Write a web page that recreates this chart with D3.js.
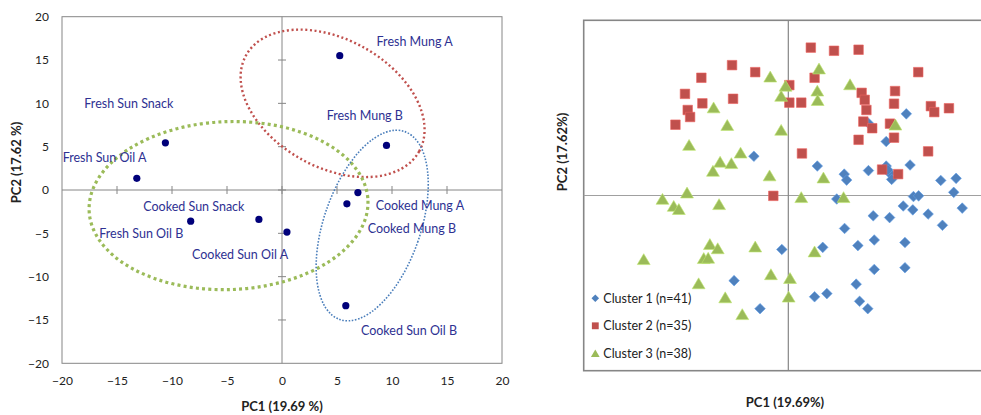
<!DOCTYPE html>
<html>
<head>
<meta charset="utf-8">
<script src="https://cdn.jsdelivr.net/npm/d3@7"></script>
<style>
  body { margin: 0; background: #fff; }
  svg { display: block; font-family: Lato, "Open Sans", sans-serif; }
</style>
</head>
<body>
<svg id="chart" width="981" height="415"></svg>
<script>
// ---------------- data: left panel (PCA scores) ----------------
const samples = ["Fresh Mung A", "Fresh Sun Snack", "Fresh Sun Oil A", "Fresh Mung B", "Cooked Mung A",
                 "Cooked Mung B", "Fresh Sun Oil B", "Cooked Sun Snack", "Cooked Sun Oil A", "Cooked Sun Oil B"];
const pc1 = [5.25, -10.6, -13.2, 9.5, 6.9, 5.9, -8.3, -2.1, 0.45, 5.8];
const pc2 = [15.5, 5.45, 1.35, 5.15, -0.3, -1.6, -3.6, -3.4, -4.85, -13.35];
// where each data label sits (data units, text start / middle)
const labelX = [8.6, -17.97, -19.94, 4.06, 8.52, 7.79, -16.61, -12.61, -8.18, 7.18];
const labelY = [17.07, 9.92, 3.76, 8.54, -1.81, -4.43, -5.07, -1.89, -7.46, -16.23];
const ticksL = [-20, -15, -10, -5, 0, 5, 10, 15, 20];

// grouping ellipses (centre in data units)
const groupCx = [4.6, -4.86, 8.2];
const groupCy = [10, -1.8, -4.1];

// ---------------- data: right panel (clusters) ----------------
const cluster1 = [
  [-1.01, 1.12], [3.46, 2.33], [2.35, 2.06], [2.87, 1.54], [0.85, 0.84], [1.64, 0.61], [1.71, 0.44],
  [2.35, 0.71], [2.87, 0.84], [2.98, 0.63], [3.03, 0.46], [3.57, 0.87], [4.47, 0.43], [4.92, 0.49],
  [4.85, 0.09], [1.42, -0.10], [3.67, -0.03], [3.82, -0.01], [5.10, -0.36], [3.37, -0.30], [3.65, -0.41],
  [4.10, -0.53], [2.49, -0.58], [2.97, -0.63], [4.52, -0.85], [1.65, -0.94], [2.52, -1.27], [3.42, -1.34],
  [1.01, -1.48], [2.04, -1.43], [2.52, -2.11], [3.42, -2.06], [1.99, -2.53], [1.13, -2.80], [0.77, -2.89],
  [2.09, -3.02], [2.33, -3.23], [-0.19, -1.54], [-1.59, -2.43], [-0.83, -3.23], [2.92, 0.73]
];
const cluster2 = [
  [-1.65, 3.72], [-0.97, 3.52], [-2.55, 3.36], [-3.03, 2.90], [-1.62, 2.76], [-2.52, 2.63], [-2.95, 2.44],
  [-2.88, 2.24], [-3.31, 2.02], [-0.44, -0.01], [0.03, 3.15], [0.03, 2.65], [0.66, 4.22], [1.34, 4.13],
  [2.06, 4.16], [3.81, 3.52], [0.77, 3.36], [2.15, 2.93], [3.13, 2.98], [2.24, 2.73], [0.38, 2.65],
  [3.10, 2.62], [2.29, 2.44], [4.18, 2.55], [4.28, 2.38], [4.71, 2.49], [2.20, 2.11], [2.46, 1.92],
  [2.98, 2.05], [3.10, 1.65], [2.06, 1.59], [0.40, 1.20], [4.10, 1.26], [2.75, 0.74], [3.22, 0.61]
];
const cluster3 = [
  [-0.53, 3.39], [-0.08, 3.13], [-0.21, 2.84], [-2.19, 2.51], [-1.79, 2.01], [-0.21, 1.87], [-2.91, 1.44],
  [-1.40, 1.22], [-2.00, 0.96], [-1.67, 0.92], [-2.21, 0.70], [-0.55, 0.57], [-2.97, 0.08], [-3.69, -0.10],
  [-2.03, -0.25], [0.90, 3.62], [0.85, 2.99], [0.86, 2.72], [1.81, 3.17], [3.14, 2.02], [1.03, 0.51],
  [0.38, -0.05], [1.62, -0.05], [0.77, -1.60], [0.05, -2.36], [0.01, -2.89], [-3.36, -0.30], [-3.21, -0.39],
  [-2.30, -1.39], [-2.07, -1.51], [-2.48, -1.79], [-2.35, -1.78], [-4.24, -1.82], [-0.97, -1.46],
  [-0.51, -2.25], [-2.63, -2.51], [-1.85, -2.91], [-1.35, -3.39]
];
const clusterNames = ["Cluster 1 (n=41)", "Cluster 2 (n=35)", "Cluster 3 (n=38)"];

const svg = d3.select("#chart");
const grey = "#868686";

// ================= left panel =================
const xL = d3.scaleLinear().domain([-20, 20]).range([62, 502]);
const yL = d3.scaleLinear().domain([-20, 20]).range([363.3, 16.7]);
const left = svg.append("g");

left.append("rect")
  .attr("x", xL(-20)).attr("y", yL(20))
  .attr("width", xL(20) - xL(-20)).attr("height", yL(-20) - yL(20))
  .attr("fill", "none").attr("stroke", grey).attr("stroke-width", 1);

// zero axes with crossing tick marks
left.append("line").attr("x1", xL(-20)).attr("x2", xL(20)).attr("y1", yL(0)).attr("y2", yL(0))
  .attr("stroke", grey);
left.append("line").attr("x1", xL(0)).attr("x2", xL(0)).attr("y1", yL(20)).attr("y2", yL(-20))
  .attr("stroke", grey);
left.selectAll(".xt").data(ticksL.filter(d => Math.abs(d) < 20)).enter().append("line")
  .attr("x1", d => xL(d)).attr("x2", d => xL(d))
  .attr("y1", yL(0) - 4).attr("y2", yL(0) + 4).attr("stroke", grey);
left.selectAll(".yt").data(ticksL.filter(d => Math.abs(d) < 20)).enter().append("line")
  .attr("y1", d => yL(d)).attr("y2", d => yL(d))
  .attr("x1", xL(0) - 4).attr("x2", xL(0) + 4).attr("stroke", grey);

// tick labels via axis generators
const axX = left.append("g").attr("transform", `translate(0,${yL(-20)})`)
  .call(d3.axisBottom(xL).tickValues(ticksL).tickSize(0).tickPadding(13));
const axY = left.append("g").attr("transform", `translate(${xL(-20)},0)`)
  .call(d3.axisLeft(yL).tickValues(ticksL).tickSize(0).tickPadding(13));
[axX, axY].forEach(a => {
  a.select(".domain").remove();
  a.selectAll("text").attr("font-size", 12).attr("fill", "#222").style("font-family", "Lato, sans-serif");
});

// group ellipses
const ellStyle = [
  { rx: 99, ry: 64, rot: 29, color: "#C0504D", w: 2.4, dash: "2 2.6" },
  { rx: 139.5, ry: 84, rot: -2, color: "#9BBB59", w: 3.2, dash: "3 3.2" },
  { rx: 48.4, ry: 99.4, rot: 19, color: "#4A7EBB", w: 1.6, dash: "1.6 1.6" }
];
left.selectAll(".ell").data(ellStyle).enter().append("ellipse")
  .attr("transform", (d, i) => `translate(${xL(groupCx[i])},${yL(groupCy[i])}) rotate(${d.rot})`)
  .attr("rx", d => d.rx).attr("ry", d => d.ry)
  .attr("fill", "none").attr("stroke", d => d.color)
  .attr("stroke-width", d => d.w).attr("stroke-dasharray", d => d.dash);

// points + labels
left.selectAll(".pt").data(samples).enter().append("circle")
  .attr("cx", (d, i) => xL(pc1[i])).attr("cy", (d, i) => yL(pc2[i]))
  .attr("r", 3.6).attr("fill", "#00007A");
left.selectAll(".lbl").data(samples).enter().append("text")
  .attr("x", (d, i) => xL(labelX[i])).attr("y", (d, i) => yL(labelY[i]))
  .attr("dy", "0.35em").attr("font-size", 12.5).attr("fill", "#2E3192")
  .text(d => d);

left.append("text").attr("x", xL(0)).attr("y", 406).attr("dy", "0.35em")
  .attr("text-anchor", "middle").attr("font-weight", "bold").attr("font-size", 13).attr("fill", "#222")
  .text("PC1 (19.69 %)");
left.append("text").attr("transform", "translate(16.7,162.5) rotate(-90)").attr("dy", "0.35em")
  .attr("text-anchor", "middle").attr("font-weight", "bold").attr("font-size", 13).attr("fill", "#222")
  .text("PC2 (17.62 %)");

// ================= right panel =================
const xR = d3.scaleLinear().domain([-6, 5.65]).range([583.7, 981]);
const yR = d3.scaleLinear().domain([-5, 5]).range([370.7, 20.3]);
const right = svg.append("g");

right.append("rect")
  .attr("x", xR(-6)).attr("y", yR(5))
  .attr("width", xR(5.65) - xR(-6) + 5).attr("height", yR(-5) - yR(5))
  .attr("fill", "none").attr("stroke", grey).attr("stroke-width", 1.6);
right.append("line").attr("x1", xR(-6)).attr("x2", xR(5.65)).attr("y1", yR(0)).attr("y2", yR(0))
  .attr("stroke", "#a0a0a0").attr("stroke-width", 1.2);
right.append("line").attr("x1", xR(0)).attr("x2", xR(0)).attr("y1", yR(5)).attr("y2", yR(-5))
  .attr("stroke", grey).attr("stroke-width", 1.2);

const markers = [
  { color: "#4F81BD", path: s => `M0,${-s}L${s},0L0,${s}L${-s},0Z` },
  { color: "#C0504D", path: s => `M${-s * 0.9},${-s * 0.9}H${s * 0.9}V${s * 0.9}H${-s * 0.9}Z` },
  { color: "#9BBB59", path: s => `M0,${-s}L${s * 1.15},${s * 0.95}L${-s * 1.15},${s * 0.95}Z` }
];
const sizes = [5.3, 5.3, 5.6];

[cluster1, cluster2, cluster3].forEach((pts, k) => {
  right.append("g").selectAll("path").data(pts).enter().append("path")
    .attr("transform", d => `translate(${xR(d[0])},${yR(d[1])})`)
    .attr("d", markers[k].path(sizes[k]))
    .attr("fill", markers[k].color)
    .attr("stroke", d3.color(markers[k].color).brighter(0.6)).attr("stroke-width", 0.6);
});

// legend
const legend = right.append("g").attr("transform", "translate(595.3,298.3)");
clusterNames.forEach((name, k) => {
  const g = legend.append("g").attr("transform", `translate(0,${k * 27.5})`);
  g.append("path").attr("d", markers[k].path(3.8)).attr("fill", markers[k].color);
  g.append("text").attr("x", 8).attr("dy", "0.35em").attr("font-size", 12.5).attr("fill", "#222")
    .text(name);
});

right.append("text").attr("x", 785).attr("y", 402).attr("dy", "0.35em")
  .attr("text-anchor", "middle").attr("font-weight", "bold").attr("font-size", 13).attr("fill", "#222")
  .text("PC1 (19.69%)");
right.append("text").attr("transform", "translate(562.7,152) rotate(-90)").attr("dy", "0.35em")
  .attr("text-anchor", "middle").attr("font-weight", "bold").attr("font-size", 13).attr("fill", "#222")
  .text("PC2 (17.62%)");
</script>
</body>
</html>
